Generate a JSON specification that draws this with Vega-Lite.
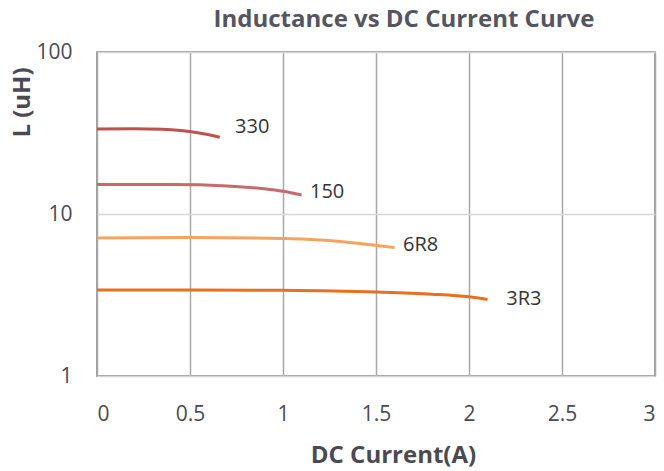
{
  "$schema": "https://vega.github.io/schema/vega-lite/v6.json",
  "width": 558,
  "height": 324,
  "autosize": {"type": "none"},
  "padding": {"left": 97, "top": 52, "right": 9, "bottom": 95},
  "background": "white",
  "title": {
    "text": "Inductance vs  DC Current Curve",
    "font": "Open Sans",
    "fontSize": 24,
    "fontWeight": "bold",
    "color": "#555560",
    "anchor": "middle",
    "dx": 28,
    "offset": 9
  },
  "config": {
    "view": {"stroke": "#808080", "strokeWidth": 1.5},
    "font": "Open Sans"
  },
  "datasets": {
    "curves": [
      {"part": "330", "current": 0, "L": 33.5},
      {"part": "330", "current": 0.2, "L": 33.6},
      {"part": "330", "current": 0.35, "L": 33.4},
      {"part": "330", "current": 0.45, "L": 32.8},
      {"part": "330", "current": 0.55, "L": 31.6},
      {"part": "330", "current": 0.66, "L": 29.8},
      {"part": "150", "current": 0, "L": 15.2},
      {"part": "150", "current": 0.4, "L": 15.2},
      {"part": "150", "current": 0.7, "L": 14.9},
      {"part": "150", "current": 0.9, "L": 14.3},
      {"part": "150", "current": 1.0, "L": 13.8},
      {"part": "150", "current": 1.1, "L": 13.1},
      {"part": "6R8", "current": 0, "L": 7.1},
      {"part": "6R8", "current": 0.5, "L": 7.15},
      {"part": "6R8", "current": 1.0, "L": 7.05},
      {"part": "6R8", "current": 1.2, "L": 6.9},
      {"part": "6R8", "current": 1.4, "L": 6.6},
      {"part": "6R8", "current": 1.6, "L": 6.2},
      {"part": "3R3", "current": 0, "L": 3.4},
      {"part": "3R3", "current": 0.5, "L": 3.4},
      {"part": "3R3", "current": 1.0, "L": 3.38},
      {"part": "3R3", "current": 1.5, "L": 3.3},
      {"part": "3R3", "current": 1.8, "L": 3.2},
      {"part": "3R3", "current": 2.0, "L": 3.08},
      {"part": "3R3", "current": 2.1, "L": 2.97}
    ],
    "labels": [
      {"part": "330", "current": 0.742, "L": 34.2},
      {"part": "150", "current": 1.145, "L": 13.6},
      {"part": "6R8", "current": 1.645, "L": 6.4},
      {"part": "3R3", "current": 2.2, "L": 3.0}
    ]
  },
  "layer": [
    {
      "data": {"name": "curves"},
      "mark": {"type": "line", "strokeWidth": 3, "interpolate": "monotone"},
      "encoding": {
        "x": {
          "field": "current",
          "type": "quantitative",
          "scale": {"domain": [0, 3], "nice": false},
          "axis": {
            "title": "DC Current(A)",
            "values": [0, 0.5, 1, 1.5, 2, 2.5, 3],
            "format": "~g",
            "grid": true,
            "gridColor": "#a8a8a8",
            "gridWidth": 1.5,
            "domain": false,
            "ticks": false,
            "labelPadding": 27,
            "labelFontSize": 21,
            "labelColor": "#4a4a50",
            "labelFont": "Open Sans",
            "titleFont": "Open Sans",
            "titleFontSize": 24,
            "titleFontWeight": "bold",
            "titleColor": "#4a4a50",
            "titleBaseline": "alphabetic",
            "titleX": 296,
            "titleY": 86
          }
        },
        "y": {
          "field": "L",
          "type": "quantitative",
          "scale": {"type": "log", "domain": [1, 100], "nice": false},
          "axis": {
            "title": "L (uH)",
            "values": [1, 10, 100],
            "format": "~g",
            "grid": true,
            "gridColor": "#d6d6d6",
            "gridWidth": 1.5,
            "domain": false,
            "ticks": false,
            "labelPadding": 25,
            "labelFontSize": 21,
            "labelColor": "#4a4a50",
            "labelBaseline": "middle",
            "labelFont": "Open Sans",
            "titleFont": "Open Sans",
            "titleFontSize": 24,
            "titleFontWeight": "bold",
            "titleColor": "#4a4a50",
            "titleAngle": -90,
            "titleX": -75,
            "titleY": 50,
            "titleAlign": "center",
            "titleBaseline": "middle"
          }
        },
        "color": {
          "field": "part",
          "type": "nominal",
          "scale": {
            "domain": ["330", "150", "6R8", "3R3"],
            "range": ["#c0504d", "#c8696b", "#f5a35e", "#e8701f"]
          },
          "legend": null
        },
        "detail": {"field": "part"}
      }
    },
    {
      "data": {"name": "labels"},
      "mark": {"type": "text", "align": "left", "baseline": "middle", "fontSize": 20, "color": "#333338", "font": "Open Sans"},
      "encoding": {
        "x": {"field": "current", "type": "quantitative"},
        "y": {"field": "L", "type": "quantitative"},
        "text": {"field": "part", "type": "nominal"}
      }
    }
  ]
}
